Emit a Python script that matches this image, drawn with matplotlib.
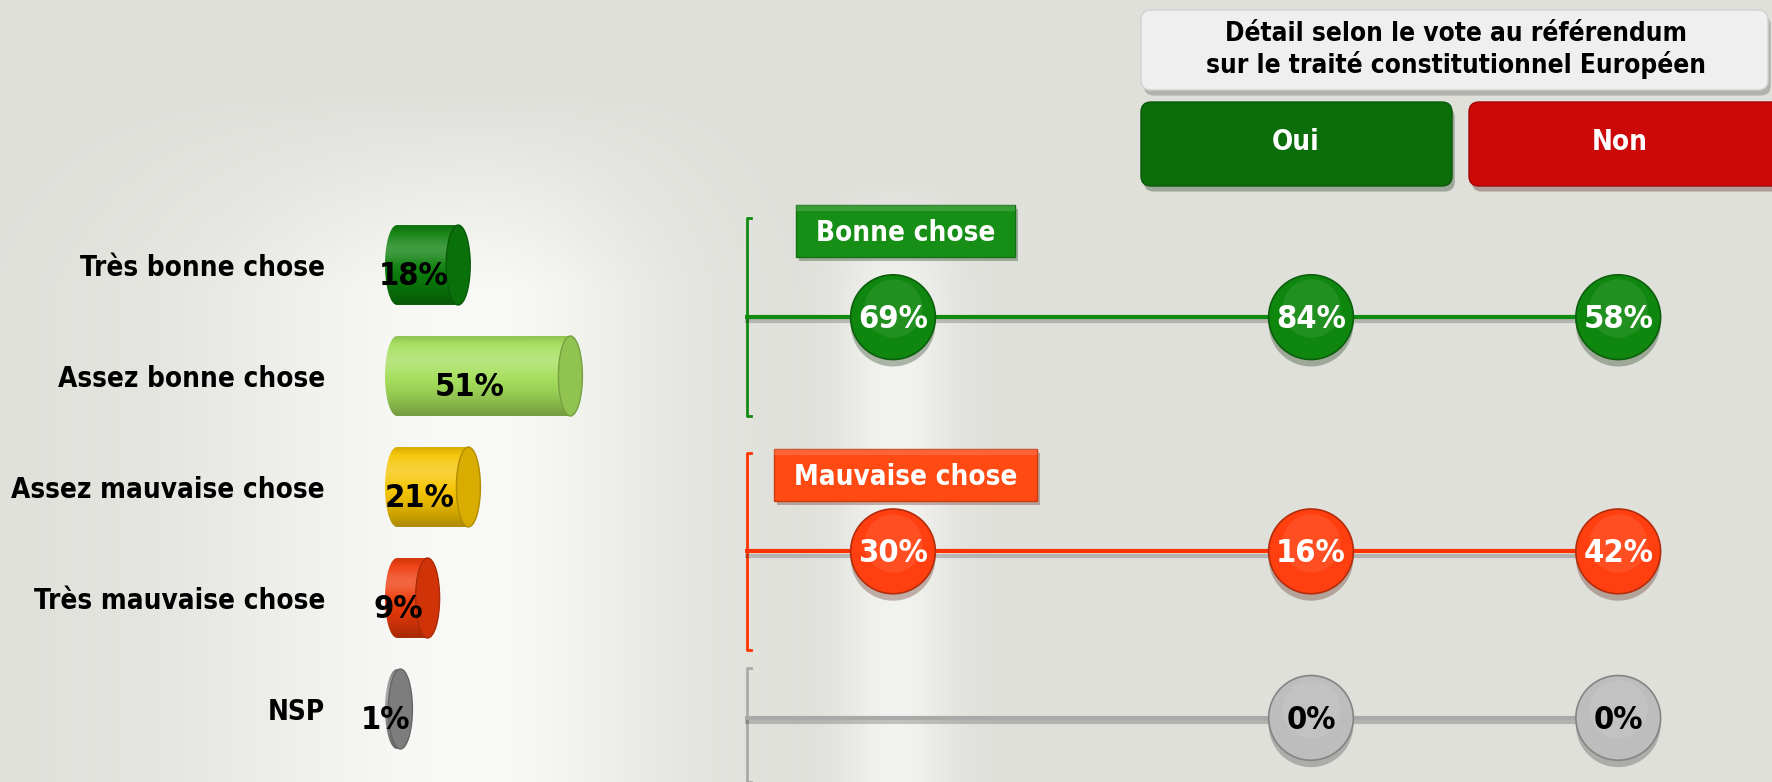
import matplotlib
matplotlib.use("Agg")
import matplotlib.pyplot as plt
import matplotlib.patheffects as pe
import numpy as np
from matplotlib import font_manager
from matplotlib.patches import Ellipse, FancyBboxPatch, Polygon, Rectangle
from matplotlib.colors import to_rgb

# ---- data ----
categories = ["Très bonne chose", "Assez bonne chose", "Assez mauvaise chose",
              "Très mauvaise chose", "NSP"]
values = [18, 51, 21, 9, 1]
bar_colors = ["#0b7f0b", "#a4de5a", "#f6c400", "#ee3a0a", "#8e8e8e"]

columns = ["Ensemble", "Oui", "Non"]      # first column has no header
group_names = ["Bonne chose", "Mauvaise chose", None]
group_rows = [[0, 1], [2, 3], [4]]
bonne = [69, 84, 58]
mauvaise = [30, 16, 42]
nsp = [None, 0, 0]
group_values = [bonne, mauvaise, nsp]
group_colors = ["#0f870f", "#ff3f0f", "#bdbdbd"]
line_colors = ["#118a11", "#ff3300", "#a9a9a9"]
box_colors = ["#178f17", "#ff4a14", None]
title = "Détail selon le vote au référendum\nsur le traité constitutionnel Européen"

# ---- font ----
have_cond = any(f.name == "DejaVu Sans" and f.stretch == "condensed"
                for f in font_manager.fontManager.ttflist)
if have_cond:
    FONT = dict(family="DejaVu Sans", stretch="condensed", weight="bold")
    FS = 20
else:
    FONT = dict(family="Liberation Sans", weight="bold")
    FS = 20.5
FS_VAL = FS * 1.17     # percentages are a bit larger
FS_TITLE = FS * 0.94


def shade(c, f):
    r, g, b = to_rgb(c)
    return (r * f, g * f, b * f)


W, H = 1772, 782
fig = plt.figure(figsize=(W / 100, H / 100), dpi=100)


def fig_box(x0, y0, x1, y1):
    return [x0 / W, 1 - y1 / H, (x1 - x0) / W, (y1 - y0) / H]


# background with soft light areas
bg = fig.add_axes([0, 0, 1, 1], zorder=0)
xx = np.arange(W)
yy = np.arange(H)
gl = np.where(xx < 480, np.exp(-((xx - 480) / 270.0) ** 2), np.exp(-((xx - 480) / 175.0) ** 2))
yl = np.clip((yy - 90) / 200.0, 0, 1)
gs = np.exp(-((xx - 895) / 55.0) ** 2)
ys = np.clip((yy - 180) / 110.0, 0, 1)
wgt = np.maximum(np.outer(yl, gl), 0.75 * np.outer(ys, gs))
base = np.array([223, 224, 218]) / 255
white = np.array([249, 249, 247]) / 255
img = base + (white - base) * wgt[..., None]
bg.imshow(img, extent=[0, W, H, 0], aspect="auto")
bg.set_xlim(0, W)
bg.set_ylim(H, 0)
bg.axis("off")

# row layout: row i centred at pixel 265 + 111*i
top_px, bot_px = 150, 782
ylim = ((bot_px - 265) / 111, (top_px - 265) / 111)

# ---- left: cylinder bars ----
zero_px, px_per = 397, 3.4
axl = fig.add_axes(fig_box(330, top_px, 700, bot_px), zorder=1)
axl.set_facecolor("none")
capw = 24 / px_per
bh = 0.72
a, b = capw / 2, bh / 2
t = np.linspace(-1, 1, 80)[:, None]
hl = 0.22 * np.exp(-((t + 0.4) / 0.35) ** 2)
sh = 0.3 * np.clip(t, 0, 1) ** 1.5 + 0.12 * np.clip((-t - 0.8) / 0.2, 0, 1)
for i, (v, c) in enumerate(zip(values, bar_colors)):
    cc = np.array(to_rgb(c))
    grad = cc * (1 - sh[..., None]) + (1 - cc) * hl[..., None]
    grad = np.clip(grad, 0, 1)
    th1 = np.linspace(np.pi / 2, 3 * np.pi / 2, 40)
    th2 = np.linspace(-np.pi / 2, np.pi / 2, 40)
    pts = np.vstack([np.c_[a * np.cos(th1), i + b * np.sin(th1)],
                     np.c_[v + a * np.cos(th2), i + b * np.sin(th2)]])
    shape = Polygon(pts, closed=True, fc="none", ec="none")
    axl.add_patch(shape)
    im = axl.imshow(grad, extent=[-a, v + a, i + b, i - b], aspect="auto", zorder=3,
                    interpolation="bilinear")
    im.set_clip_path(shape)
    axl.add_patch(Ellipse((v, i), capw, bh, fc=shade(c, 0.88), ec=shade(c, 0.72),
                          lw=1, zorder=5))
    axl.text(v / 2 - 4, i + 0.1, f"{v}%", ha="center", va="center", color="black",
             fontsize=FS_VAL, zorder=6, **FONT)
axl.set_xlim(-(zero_px - 330) / px_per, (700 - zero_px) / px_per)
axl.set_ylim(*ylim)
axl.set_yticks(range(len(categories)))
axl.set_yticklabels(categories, fontsize=FS, **FONT)
axl.tick_params(axis="y", length=0, pad=3.6)
axl.set_xticks([])
for s in axl.spines.values():
    s.set_visible(False)

# ---- right: dots per vote ----
col_x = [0, 1, 1.735]
unit = 418
line_offsets = [-0.03, 0.08, 0.08]
box_offsets = [-0.78, -0.69, 0]
axr = fig.add_axes(fig_box(745, top_px, W, bot_px), zorder=1)
axr.set_facecolor("none")
x0 = -148 / unit
axr.set_xlim(x0, (W - 893) / unit)
axr.set_ylim(*ylim)
axr.axis("off")
tick = 6 / unit
renderer = fig.canvas.get_renderer()
for g, rows in enumerate(group_rows):
    ly = np.mean(rows) + line_offsets[g]
    half = 0.445 * len(rows)
    top = ly - half
    bot = ly + half if g < len(group_rows) - 1 else ylim[0]
    axr.plot([x0 + tick, x0 + 0.004, x0 + 0.004, x0 + tick], [top, top, bot, bot],
             color=line_colors[g], lw=2, clip_on=False, zorder=2)
    axr.plot([x0 + 0.004, col_x[-1]], [ly, ly], color=line_colors[g], lw=3, zorder=2,
             path_effects=[pe.SimpleLineShadow(offset=(0, -3), alpha=0.2), pe.Normal()])
    for j, val in enumerate(group_values[g]):
        if val is None:
            continue
        c = group_colors[g]
        axr.scatter(col_x[j], ly, s=61 ** 2, color=c, edgecolors=shade(c, 0.7),
                    linewidths=1.2, zorder=4,
                    path_effects=[pe.SimplePatchShadow(offset=(0, -5), alpha=0.3), pe.Normal()])
        axr.scatter(col_x[j], ly - 0.08, s=42 ** 2, color="white", alpha=0.08,
                    linewidths=0, zorder=5)
        tc = "white" if g < 2 else "black"
        axr.text(col_x[j], ly + 0.02, f"{val}%", ha="center", va="center", color=tc,
                 fontsize=FS_VAL, zorder=6, **FONT)
    if group_names[g]:
        cx, cy = col_x[0] + 0.03, ly + box_offsets[g]
        txt = axr.text(cx, cy + 0.02, group_names[g], ha="center", va="center",
                       color="white", fontsize=FS, zorder=6, **FONT)
        wpx = txt.get_window_extent(renderer).width
        bw, bhh = (wpx + 40) / unit, 52 / 111
        axr.add_patch(Rectangle((cx - bw / 2, cy - bhh / 2), bw, bhh,
                                fc=box_colors[g], ec=shade(box_colors[g], 0.8), lw=1,
                                zorder=5,
                                path_effects=[pe.SimplePatchShadow(offset=(2, -3), alpha=0.3),
                                              pe.Normal()]))
        axr.add_patch(Rectangle((cx - bw / 2, cy - bhh / 2), bw, bhh * 0.12,
                                fc="white", alpha=0.15, lw=0, zorder=5))

# ---- header boxes ----
shadow = [pe.SimplePatchShadow(offset=(2, -4), alpha=0.3), pe.Normal()]
hb = FancyBboxPatch((1141, 10), 627, 80, boxstyle="round,pad=0,rounding_size=10",
                    fc="#efefef", ec="#d2d2d2", lw=1, zorder=2, path_effects=shadow)
bg.add_patch(hb)
bg.text(1456, 50, title, ha="center", va="center", color="black", fontsize=FS_TITLE,
        zorder=3, **FONT)
for (bx0, bx1, col, lab, tx) in [(1141, 1452, "#0b6e0b", "Oui", 1296),
                                  (1469, 1790, "#cc0808", "Non", 1620)]:
    bg.add_patch(FancyBboxPatch((bx0, 102), bx1 - bx0, 84,
                                boxstyle="round,pad=0,rounding_size=10",
                                fc=col, ec=shade(col, 0.8), lw=1, zorder=2,
                                path_effects=shadow))
    bg.text(tx, 142, lab, ha="center", va="center", color="white", fontsize=FS,
            zorder=3, **FONT)

fig.savefig("out.png", dpi=100)
